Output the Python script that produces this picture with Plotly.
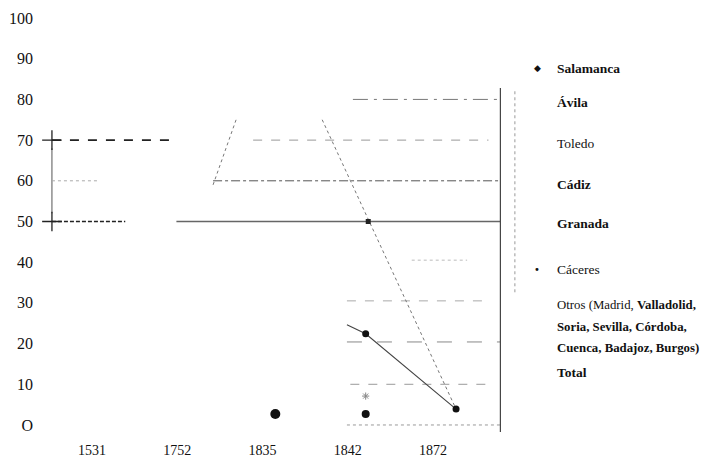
import plotly.graph_objects as go

# ---- data ----
years = ["1531", "1752", "1835", "1842", "1872"]
year_pos = [0, 1, 2, 3, 4]
y_ticks = [0, 10, 20, 30, 40, 50, 60, 70, 80, 90, 100]
y_ticktext = ["O", "10", "20", "30", "40", "50", "60", "70", "80", "90", "100"]

# early bracket (two "+" points joined by a vertical line)
bracket_x = [-0.47, -0.47]
bracket_y = [70, 50]
bracket_line_y = [52, 68]

# horizontal segments: (x_start, x_end, value)
h70_early = [-0.47, 0.97, 70]
h50_early = [-0.47, 0.39, 50]
h60_early = [-0.47, 0.06, 60]
h50_main = [0.99, 4.79, 50]
h60_main = [1.42, 4.79, 60]
h70_main = [1.89, 4.65, 70]
h80_main = [3.06, 4.79, 80]
h40_main = [3.75, 4.40, 40.5]
h30_main = [2.99, 4.60, 30.5]
h20_main = [2.99, 4.79, 20.4]
h10_main = [3.03, 4.67, 10]
h0_main = [2.99, 4.79, 0]

# rising dotted segment
rise_x = [1.42, 1.69]
rise_y = [59, 75]
# falling dotted segment
fall_x = [2.70, 4.27]
fall_y = [75, 3.9]
# Total line
total_x = [2.99, 3.21, 4.27]
total_y = [24.6, 22.4, 3.9]
total_marker_x = [3.21, 4.27]
total_marker_y = [22.4, 3.9]
# single points
granada_pt = [3.24, 50]
caceres_x = [3.21]
caceres_y = [2.7]
otros_x = [3.21]
otros_y = [7.1]
big_pt_x = [2.15]
big_pt_y = [2.7]
# right-hand frame lines
frame_x = [4.79, 4.79]
frame_y = [82.8, -1.7]
frame2_x = [4.96, 4.96]
frame2_y = [82, 32]

legend_items = [
    ("<b>Salamanca</b>", 68, 13.5),
    ("<b>Ávila</b>", 103, 13.5),
    ("Toledo", 143, 13.5),
    ("<b>Cádiz</b>", 184, 13.5),
    ("<b>Granada</b>", 224, 13.5),
    ("Cáceres", 269, 13.5),
    ("Otros (Madrid, <b>Valladolid,</b>", 305, 12.8),
    ("<b>Soria, Sevilla, Córdoba,</b>", 327, 12.8),
    ("<b>Cuenca, Badajoz, Burgos)</b>", 348, 12.8),
    ("<b>Total</b>", 372, 13.5),
]

SERIF = "Liberation Serif, Times New Roman, serif"

fig = go.Figure()


def line(x, y, color="#555", width=1, dash="solid"):
    fig.add_trace(go.Scatter(x=x, y=y, mode="lines",
                             line=dict(color=color, width=width, dash=dash),
                             hoverinfo="skip", showlegend=False))


def hseg(seg, color="#555", width=1, dash="solid"):
    line([seg[0], seg[1]], [seg[2], seg[2]], color, width, dash)


# early bracket
line(bracket_x[:1] * 2, bracket_line_y, "#555", 1)
hseg(h70_early, "#222", 1.6, "dash")
hseg(h50_early, "#222", 1.4, "4px,2px")
hseg(h60_early, "#aaa", 1, "dot")
fig.add_trace(go.Scatter(x=bracket_x, y=bracket_y, mode="markers",
                         marker=dict(symbol="cross-thin", size=14,
                                     line=dict(color="#222", width=1.3)),
                         showlegend=False, hoverinfo="skip"))

# main horizontals
hseg(h50_main, "#666", 1.3)
hseg(h60_main, "#555", 1, "dashdot")
hseg(h70_main, "#999", 1, "dash")
hseg(h80_main, "#777", 1, "longdashdot")
hseg(h40_main, "#bbb", 1, "dot")
hseg(h30_main, "#aaa", 1, "dash")
hseg(h20_main, "#888", 1, "longdash")
hseg(h10_main, "#999", 1, "dash")
hseg(h0_main, "#999", 1, "dot")

# diagonals
line(rise_x, rise_y, "#777", 1, "dot")
line(fall_x, fall_y, "#777", 1, "dot")
line(total_x, total_y, "#444", 1.1)

fig.add_trace(go.Scatter(x=total_marker_x, y=total_marker_y, mode="markers",
                         marker=dict(symbol="circle", size=7, color="#111"),
                         showlegend=False, hoverinfo="skip"))
fig.add_trace(go.Scatter(x=[granada_pt[0]], y=[granada_pt[1]], mode="markers",
                         marker=dict(symbol="square", size=5, color="#222"),
                         showlegend=False, hoverinfo="skip"))
fig.add_trace(go.Scatter(x=caceres_x, y=caceres_y, mode="markers",
                         marker=dict(symbol="circle", size=8, color="#111"),
                         showlegend=False, hoverinfo="skip"))
fig.add_trace(go.Scatter(x=otros_x, y=otros_y, mode="markers",
                         marker=dict(symbol="asterisk", size=6,
                                     line=dict(color="#888", width=1)),
                         showlegend=False, hoverinfo="skip"))
fig.add_trace(go.Scatter(x=big_pt_x, y=big_pt_y, mode="markers",
                         marker=dict(symbol="circle", size=10, color="#111"),
                         showlegend=False, hoverinfo="skip"))

# frame lines
line(frame_x, frame_y, "#444", 1.2)
line(frame2_x, frame2_y, "#999", 1, "dot")

# layout geometry (page has an 8px body margin)
OFF = 8
W, H = 700, 457
L, T = 40 - OFF, 10 - OFF
pw, ph = 480, 430
R = W - L - pw
B = H - T - ph


def px_to_paper(xp, yp):
    return (xp - OFF - L) / pw, (OFF + T + ph - yp) / ph


for text, ypx, fs in legend_items:
    ax, ay = px_to_paper(555, ypx)
    fig.add_annotation(x=ax, y=ay, xref="paper", yref="paper",
                       text=text, showarrow=False, xanchor="left", yanchor="middle",
                       font=dict(family=SERIF, size=fs, color="#111"))
ax, ay = px_to_paper(537, 68)
fig.add_annotation(x=ax, y=ay, xref="paper", yref="paper",
                   text="◆", showarrow=False, xanchor="center", yanchor="middle",
                   font=dict(family="DejaVu Sans", size=9, color="#111"))
ax, ay = px_to_paper(537, 269)
fig.add_annotation(x=ax, y=ay, xref="paper", yref="paper",
                   text="•", showarrow=False, xanchor="center", yanchor="middle",
                   font=dict(family="DejaVu Sans", size=10, color="#111"))

fig.update_layout(
    width=W, height=H,
    margin=dict(l=L, r=R, t=T, b=B, autoexpand=False),
    paper_bgcolor="white", plot_bgcolor="white",
    showlegend=False,
    font=dict(family=SERIF, color="#111"),
    xaxis=dict(range=[-0.61, 5.02], tickmode="array", tickvals=year_pos, ticktext=years,
               showgrid=False, zeroline=False, showline=False, ticks="", automargin=False,
               tickfont=dict(size=14, family=SERIF)),
    yaxis=dict(range=[-3.69, 101.97], tickmode="array", tickvals=y_ticks, ticktext=y_ticktext,
               showgrid=False, zeroline=False, showline=False, ticks="", automargin=False,
               ticklabelstandoff=6,
               tickfont=dict(size=16, family=SERIF)),
)

fig.write_html("out.html")
